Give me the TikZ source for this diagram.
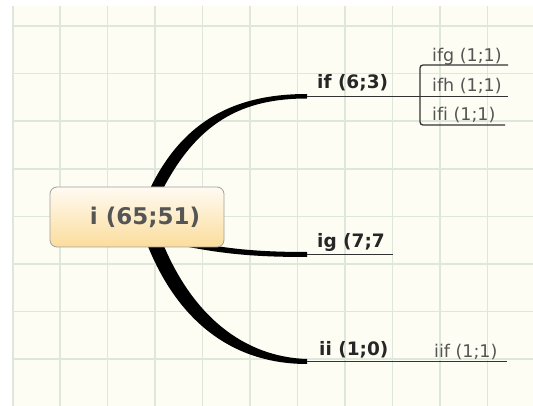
\documentclass[tikz,border=0pt]{standalone}
\usepackage{fontspec}
\setmainfont{DejaVu Sans}[Ligatures=NoCommon]
\usepackage{tikz}
\usetikzlibrary{calc}
\definecolor{mapPaper}{HTML}{FDFDF3}
\definecolor{mapGrid}{HTML}{DFE7DC}
\definecolor{mapInk}{HTML}{000000}
\definecolor{mapLine}{HTML}{333333}
\definecolor{mapGray}{HTML}{555555}
\definecolor{mapRootTop}{HTML}{FFFBF2}
\definecolor{mapRootBottom}{HTML}{FBDD9C}
\definecolor{mapRootBorder}{HTML}{A0A0A0}
\pgfdeclarelayer{paper}
\pgfdeclarelayer{bands}
\pgfsetlayers{paper,bands,main}
\tikzset{
  rootTopic/.style={
    rectangle,
    rounded corners=7pt,
    draw=mapRootBorder,
    line width=0.8pt,
    top color=mapRootTop,
    bottom color=mapRootBottom,
    minimum width=174pt,
    minimum height=60pt,
    inner sep=0pt,
    text=mapGray,
    font=\fontsize{23}{26}\selectfont\bfseries
  },
  branchLabel/.style={
    inner sep=0pt,
    anchor=base west,
    text=mapInk!85,
    font=\fontsize{18.5}{20}\selectfont\bfseries
  },
  leafLabel/.style={
    inner sep=0pt,
    anchor=base west,
    text=mapGray,
    font=\fontsize{17.5}{19}\selectfont
  },
  underline/.style={
    draw=mapLine,
    line width=1.3pt
  },
  branchBand/.style={
    fill=mapInk
  },
  gridLine/.style={
    draw=mapGrid,
    line width=1.6pt
  }
}

\begin{document}
\begin{tikzpicture}[x=1pt,y=-1pt]
  \useasboundingbox (0,0) rectangle (533,406);
  \begin{pgfonlayer}{paper}
    \fill[white] (0,0) rectangle (533,406);
    \fill[mapPaper] (12.7,6) rectangle (533,406);
    \foreach \gx in {0,...,10}
      \draw[gridLine] ({12.7+47.46*\gx},6) -- ({12.7+47.46*\gx},406);
    \foreach \gy in {0,...,7}
      \draw[gridLine] (12.7,{26+47.6*\gy}) -- (533,{26+47.6*\gy});
  \end{pgfonlayer}

  % central topic
  \node[rootTopic] (root) at (137,217) {\hspace*{16pt}i (65;51)};

  % branch ends and underlines
  \coordinate (ifA) at (307,96.5);
  \coordinate (ifB) at (420,96.5);
  \coordinate (igA) at (307,254.5);
  \coordinate (igB) at (393,254.5);
  \coordinate (iiA) at (307,361.5);
  \coordinate (iiB) at (424,361.5);
  \coordinate (ifgB) at (508,65);
  \coordinate (ifhB) at (508,96.5);
  \coordinate (ifiB) at (505,125);
  \coordinate (iifB) at (507,361.5);

  \node[branchLabel] (ifL) at (317,89) {if (6;3)};
  \node[branchLabel] (igL) at (317,248) {ig (7;7};
  \node[branchLabel] (iiL) at (319,355) {ii (1;0)};
  \node[leafLabel] (ifgL) at (432,62) {ifg (1;1)};
  \node[leafLabel] (ifhL) at (432,92) {ifh (1;1)};
  \node[leafLabel] (ifiL) at (432,121) {ifi (1;1)};
  \node[leafLabel] (iifL) at (434,357) {iif (1;1)};

  \begin{pgfonlayer}{bands}
    \fill[branchBand] ($(root.north west)+(99,5)$) .. controls (183,118) and (238,94) .. ($(ifA)+(0,-2.5)$)
      -- ($(ifA)+(0,2)$) .. controls (242,98.5) and (197,122) .. ($(root.north west)+(112,5)$) -- cycle;
    \fill[branchBand] ($(root.south east)+(-39,-7)$) .. controls (225,248.5) and (255,252) .. ($(igA)+(0,-2.5)$)
      -- ($(igA)+(0,2.5)$) .. controls (255,257) and (225,254) .. ($(root.south east)+(-39,-1)$) -- cycle;
    \fill[branchBand] ($(root.south west)+(96,-7)$) .. controls (178,325) and (236,364) .. ($(iiA)+(0,2.5)$)
      -- ($(iiA)+(0,-2.5)$) .. controls (244,357) and (192,316) .. ($(root.south west)+(112,-7)$) -- cycle;
  \end{pgfonlayer}

  \draw[underline] (ifA) -- (ifB);
  \draw[underline] (igA) -- (igB);
  \draw[underline] (iiA) -- (iiB);
  \draw[underline] (iiB) -- (iifB);
  \draw[underline,rounded corners=3pt] (ifgB) -| (ifB) |- (ifiB);
  \draw[underline] (ifB) -- (ifhB);
\end{tikzpicture}
\end{document}
